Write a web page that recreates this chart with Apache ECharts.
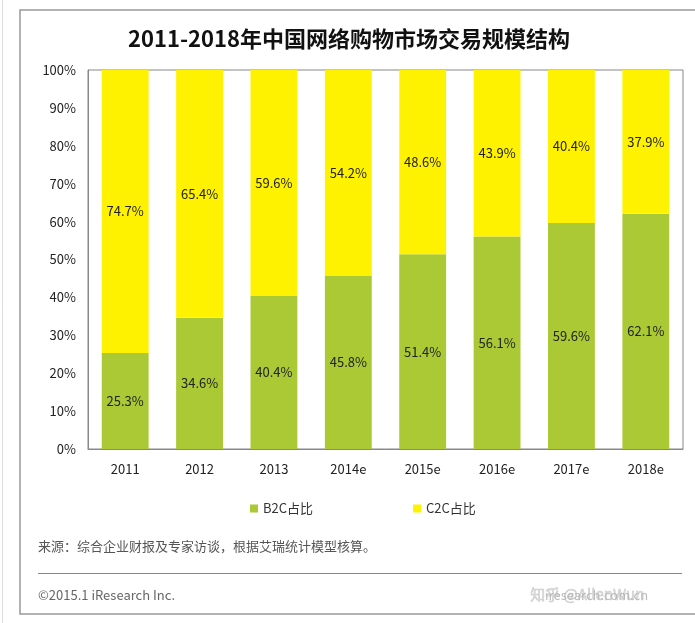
<!DOCTYPE html>
<html><head><meta charset="utf-8">
<script src="https://cdn.jsdelivr.net/npm/echarts@6/dist/echarts.min.js"></script>
<style>html,body{margin:0;padding:0;background:#fff}#c{width:695px;height:623px}</style>
</head><body><div id="c"></div>
<script>
const categories = ['2011','2012','2013','2014e','2015e','2016e','2017e','2018e'];
const b2c = [25.3, 34.6, 40.4, 45.8, 51.4, 56.1, 59.6, 62.1];
const c2c = [74.7, 65.4, 59.6, 54.2, 48.6, 43.9, 40.4, 37.9];
const seriesNames = ['B2C占比', 'C2C占比'];
const titleText = '2011-2018年中国网络购物市场交易规模结构';
const sourceText = '来源：综合企业财报及专家访谈，根据艾瑞统计模型核算。';
const copyrightText = '©2015.1 iResearch Inc.';
const watermarkText = '知乎 @AllenWun';

const FONT = '"Noto Sans CJK SC", "Noto Sans", sans-serif';
const chart = echarts.init(document.getElementById('c'));
const labelStyle = {show: true, position: 'inside', color: '#222', fontSize: 13, fontFamily: FONT,
  formatter: p => p.value.toFixed(1) + '%'};
chart.setOption({
  animation: false,
  backgroundColor: '#fff',
  title: {text: titleText, left: 344, top: 23, textAlign: 'center',
    textStyle: {fontFamily: FONT, fontSize: 22, fontWeight: 'bold', color: '#111'}},
  grid: {left: 88, top: 70, width: 595, height: 379, show: true, borderColor: '#888', borderWidth: 1, backgroundColor: 'transparent'},
  legend: {data: seriesNames, left: 245, top: 497, itemWidth: 8, itemHeight: 8, itemGap: 100, icon: 'rect',
    textStyle: {fontFamily: FONT, fontSize: 13, color: '#333'}},
  xAxis: {type: 'category', data: categories, axisTick: {show: false},
    axisLine: {lineStyle: {color: '#888'}},
    axisLabel: {color: '#222', fontSize: 13, fontFamily: FONT, margin: 14}},
  yAxis: {type: 'value', min: 0, max: 100, interval: 10, splitLine: {show: false},
    axisLine: {show: true, lineStyle: {color: '#888'}}, axisTick: {show: false},
    axisLabel: {color: '#222', fontSize: 13, fontFamily: FONT, margin: 12, formatter: v => v + '%'}},
  series: [
    {name: seriesNames[0], type: 'bar', stack: 's', data: b2c, barWidth: '63%', itemStyle: {color: '#AAC934'}, label: labelStyle},
    {name: seriesNames[1], type: 'bar', stack: 's', data: c2c, barWidth: '63%', itemStyle: {color: '#FFF200'}, label: labelStyle}
  ],
  graphic: [
    {type: 'rect', shape: {x: 20, y: 10, width: 700, height: 604}, style: {fill: 'none', stroke: '#999', lineWidth: 1.5}, silent: true},
    {type: 'line', shape: {x1: 2.5, y1: 0, x2: 2.5, y2: 623}, style: {stroke: '#ddd', lineWidth: 1}},
    {type: 'text', left: 38, top: 540, style: {text: sourceText, fontFamily: FONT, fontSize: 13, fill: '#555'}},
    {type: 'line', shape: {x1: 38, y1: 573.5, x2: 682, y2: 573.5}, style: {stroke: '#888', lineWidth: 1}},
    {type: 'text', left: 38, top: 589, style: {text: copyrightText, fontFamily: FONT, fontSize: 13, fill: '#666'}},
    {type: 'text', left: 545, top: 589, style: {text: 'iresearch.com.cn', fontFamily: FONT, fontSize: 13, fill: '#bbb'}},
    {type: 'text', left: 530, top: 587, style: {text: watermarkText, fontFamily: FONT, fontSize: 15, fill: 'rgba(200,200,200,0.6)', stroke: 'rgba(150,150,150,0.5)', lineWidth: 0.5}}
  ]
});
</script></body></html>
